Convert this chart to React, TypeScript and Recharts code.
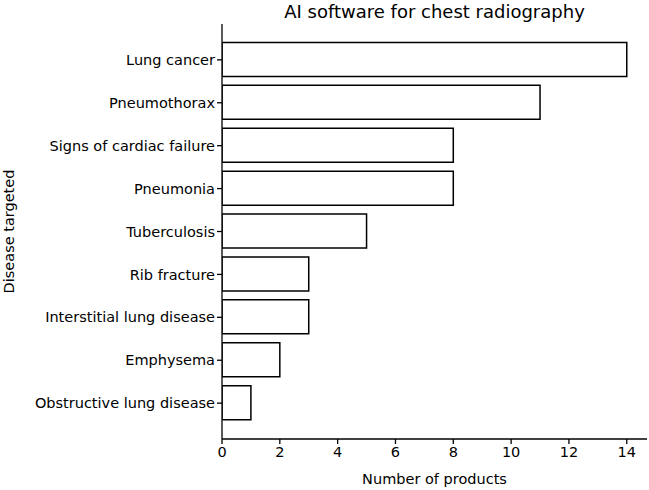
import { Bar, BarChart, XAxis, YAxis } from "recharts";

const diseases = [
  "Lung cancer",
  "Pneumothorax",
  "Signs of cardiac failure",
  "Pneumonia",
  "Tuberculosis",
  "Rib fracture",
  "Interstitial lung disease",
  "Emphysema",
  "Obstructive lung disease",
];

const productCounts = [14, 11, 8, 8, 5, 3, 3, 2, 1];

const xTicks = [0, 2, 4, 6, 8, 10, 12, 14];

const data = diseases.map((name, i) => ({ name, products: productCounts[i] }));

const font = "'DejaVu Sans', sans-serif";

export default function App() {
  return (
    <div style={{ position: "absolute", left: 0, top: 0, fontFamily: font }}>
      <div
        style={{
          position: "absolute",
          left: 222,
          width: 425,
          top: 1,
          textAlign: "center",
          fontSize: 18,
          color: "#000",
        }}
      >
        AI software for chest radiography
      </div>
      <BarChart
        width={649}
        height={490}
        data={data}
        layout="vertical"
        margin={{ top: 24, right: 2, bottom: 0, left: 0 }}
        barSize={34}
      >
        <XAxis
          type="number"
          domain={[0, 14.7]}
          ticks={xTicks}
          allowDataOverflow
          height={51}
          stroke="#000"
          strokeWidth={1.3}
          tickSize={5}
          tickMargin={3}
          tick={{ fill: "#000", fontSize: 14.5, fontFamily: font }}
          label={{
            value: "Number of products",
            position: "insideBottom",
            offset: 6,
            fill: "#000",
            fontSize: 14.5,
            fontFamily: font,
          }}
        />
        <YAxis
          type="category"
          dataKey="name"
          width={222}
          padding={{ top: 14.4, bottom: 14.4 }}
          stroke="#000"
          strokeWidth={1.3}
          tickSize={5}
          tickMargin={2}
          interval={0}
          tick={{ fill: "#000", fontSize: 14.5, fontFamily: font }}
          label={{
            value: "Disease targeted",
            angle: -90,
            position: "insideLeft",
            offset: 9,
            fill: "#000",
            fontSize: 14.5,
            fontFamily: font,
            style: { textAnchor: "middle" },
          }}
        />
        <Bar
          dataKey="products"
          fill="#fff"
          stroke="#000"
          strokeWidth={1.5}
          isAnimationActive={false}
        />
      </BarChart>
    </div>
  );
}
